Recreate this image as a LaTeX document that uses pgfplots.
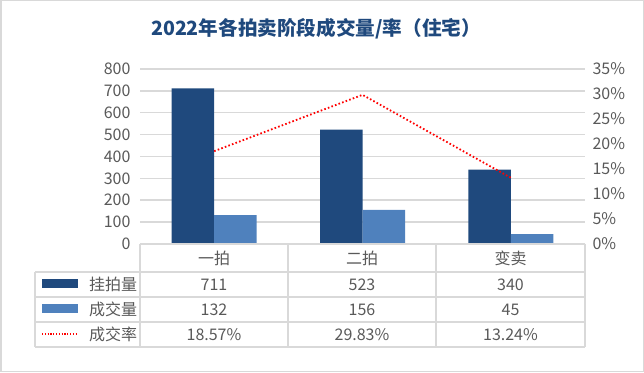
\documentclass[border=0pt]{standalone}
\usepackage{fontspec}
\setmainfont{Noto Sans CJK SC}
\usepackage{pgfplots}
\pgfplotsset{compat=1.18}
\definecolor{darkbar}{RGB}{31,73,125}
\definecolor{lightbar}{RGB}{79,129,189}
\definecolor{gridgray}{RGB}{217,217,217}
\definecolor{txt}{RGB}{89,89,89}
\definecolor{titlec}{RGB}{31,73,125}
\begin{document}
\begin{tikzpicture}[x=1pt,y=1pt]
\useasboundingbox (0,0) rectangle (644,372);
\draw[gridgray, line width=1.5pt] (0.75,0.75) rectangle (643.25,371.25);
\node[font=\bfseries\fontsize{19.6}{20}\selectfont, text=titlec] at (316,343.5) {2022年各拍卖阶段成交量/率（住宅）};

\begin{axis}[
 at={(140pt,128pt)}, anchor=south west,
 scale only axis, width=445pt, height=175pt,
 xmin=-0.5, xmax=2.5, ymin=0, ymax=800,
 ytick={0,100,...,800}, xtick=\empty,
 axis line style={draw=none},
 ymajorgrids, grid style={gridgray, line width=1.5pt},
 major tick length=0pt,
 ybar=0pt, bar width=42.5pt,
 yticklabel style={font=\fontsize{16}{16}\selectfont, text=txt, xshift=-6pt},
 /pgf/number format/assume math mode=true,
 clip=false,
]
\addplot[fill=darkbar, draw=none] coordinates {(0,711) (1,523) (2,340)};
\addplot[fill=lightbar, draw=none] coordinates {(0,132) (1,156) (2,45)};
\end{axis}

\begin{axis}[
 at={(140pt,128pt)}, anchor=south west,
 scale only axis, width=445pt, height=175pt,
 xmin=-0.5, xmax=2.5, ymin=0, ymax=35,
 ytick={0,5,...,35}, xtick=\empty,
 axis y line*=right, axis x line=none,
 axis line style={draw=none},
 major tick length=0pt,
 yticklabel={\pgfmathprintnumber{\tick}\%},
 yticklabel style={font=\fontsize{16}{16}\selectfont, text=txt, xshift=4pt},
 /pgf/number format/assume math mode=true,
 clip=false,
]
\addplot[red, line width=1.8pt, dash pattern=on 1.6pt off 2.2pt] coordinates {(0,18.57) (1,29.83) (2,13.24)};
\end{axis}

% data table
\begin{scope}[gridgray, line width=1.6pt]
\draw (140,128) -- (585,128);
\foreach \y in {100,75,50,25} {\draw (35,\y) -- (585,\y);}
\draw (35,100) -- (35,25);
\foreach \x in {140,288,436,585} {\draw (\x,128) -- (\x,25);}
\end{scope}
\fill[darkbar] (42,84) rectangle (78,93);
\fill[lightbar] (42,59.5) rectangle (78,68);
\draw[red, line width=1.5pt, dash pattern=on 1.2pt off 1.6pt] (42,38) -- (78,38);
\begin{scope}[font=\fontsize{16}{16}\selectfont, text=txt]
\node[anchor=west, inner sep=0pt] at (89,87.5) {挂拍量};
\node[anchor=west, inner sep=0pt] at (89,62.5) {成交量};
\node[anchor=west, inner sep=0pt] at (89,37.5) {成交率};
\node at (214,114) {一拍};
\node at (362,114) {二拍};
\node at (510.5,114) {变卖};
\node at (214,87.5) {711};
\node at (362,87.5) {523};
\node at (510.5,87.5) {340};
\node at (214,62.5) {132};
\node at (362,62.5) {156};
\node at (510.5,62.5) {45};
\node at (214,37.5) {18.57\%};
\node at (362,37.5) {29.83\%};
\node at (510.5,37.5) {13.24\%};
\end{scope}
\end{tikzpicture}
\end{document}
